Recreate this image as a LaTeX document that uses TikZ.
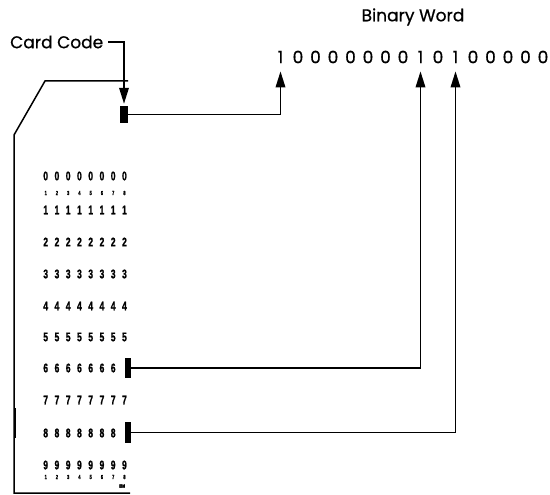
\documentclass[tikz,border=0pt]{standalone}
\usepackage{fontspec}
\setmainfont{Poppins}
\newfontfamily\labelfont[FakeBold=0.7]{Poppins}
\newfontfamily\cardfont[FakeStretch=0.68,FakeBold=1.2]{Liberation Sans}
\usetikzlibrary{arrows.meta}
\begin{document}
\begin{tikzpicture}[x=1pt,y=-1pt,
  lbl/.style={font=\labelfont\fontsize{17}{17}\selectfont, inner sep=0pt},
  bit/.style={font=\labelfont\fontsize{17}{17}\selectfont, inner xsep=0pt, inner ysep=8pt},
  punch/.style={fill=black, draw=none, inner sep=0pt},
  digit/.style={font=\cardfont\bfseries\fontsize{12.5}{12.5}\selectfont, inner sep=0pt},
  tiny/.style={font=\cardfont\bfseries\fontsize{6}{6}\selectfont, inner sep=0pt},
  card/.style={line width=1.5pt},
  conn/.style={line width=1.8pt, -{Triangle[length=16pt,width=9.5pt]}}
]
\useasboundingbox (0,0) rectangle (550,495);

% labels
\node[lbl, anchor=west] (cclbl) at (10,42) {Card Code};
\node[lbl] (bwlbl) at (413,17) {Binary Word};

% binary word
\foreach \b [count=\i] in {1,0,0,0,0,0,0,0,1,0,1,0,0,0,0,0}
  \node[bit] (b\i) at ({280.5+17.5*(\i-1)},57) {\b};

% card outline
\draw[card] (128,81) -- (45,81) -- (14,135) -- (14,493) -- (130,493);
\draw[card] (15.5,408) -- (15.5,438);

% card code punch
\node[punch, minimum width=8pt, minimum height=17pt] (cc) at (124,114.5) {};

% card printed digits
\foreach \r/\yy in {0/176,1/210,2/242,3/274,4/306,5/337,7/400,9/465}
  \foreach \c in {1,...,8}
    \node[digit] (d\r-\c) at ({45.7+11.25*(\c-1)},\yy) {\r};
\foreach \r/\yy in {6/368,8/433}
  \foreach \c in {1,...,7}
    \node[digit] (d\r-\c) at ({45.7+11.25*(\c-1)},\yy) {\r};
\foreach \c in {1,...,8}{
  \node[tiny] (sa\c) at ({45.7+11.25*(\c-1)},193) {\c};
  \node[tiny] (sb\c) at ({45.7+11.25*(\c-1)},477) {\c};
}
\node[tiny, font=\cardfont\bfseries\fontsize{5}{5}\selectfont] (ibm) at (122,486) {IBM};

% punched holes in rows 6 and 8
\node[punch, minimum width=6pt, minimum height=20pt] (m6) at (128,368) {};
\node[punch, minimum width=6pt, minimum height=21pt] (m8) at (128,432.5) {};

% connectors
\draw[conn, shorten <=5pt, shorten >=2pt] (cclbl.east) -| (cc.north);
\draw[conn] (cc.east) -| (b1.south);
\draw[conn] (m6.east) -| (b9.south);
\draw[conn] (m8.east) -| (b11.south);
\end{tikzpicture}
\end{document}
